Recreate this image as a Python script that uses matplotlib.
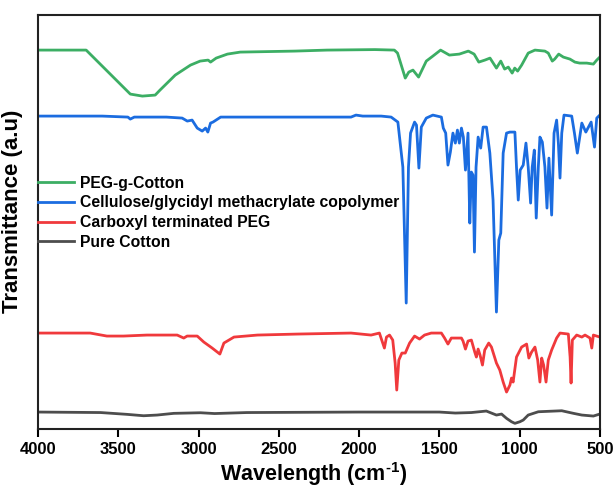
"""FTIR spectra of cotton, PEG and the grafted product (stacked, offset)."""

import numpy as np
import matplotlib
matplotlib.use("Agg")
import matplotlib.pyplot as plt

plt.rcParams.update({
    "font.family": ["Liberation Sans", "DejaVu Sans"],
    "font.weight": "bold",
    "mathtext.fontset": "custom",
    "mathtext.bf": "Liberation Sans:bold",
    "mathtext.rm": "Liberation Sans:bold",
})

# wavenumber (cm-1) / offset transmittance (a.u.)
peg_cotton_wn = [4000, 3700, 3600, 3500, 3425, 3350, 3270, 3240, 3145, 3050, 2990, 2940,
                 2925, 2890, 2820, 2740, 2400, 2200, 1900, 1780, 1760, 1712, 1690, 1664,
                 1629, 1581, 1540, 1492, 1437, 1375, 1319, 1283, 1254, 1216, 1184, 1144,
                 1117, 1093, 1070, 1046, 1030, 1012, 987, 946, 904, 842, 821, 796, 781,
                 756, 727, 686, 655, 625, 581, 540, 519, 500]
peg_cotton_t = [379, 379, 363, 347, 335, 333, 334, 339, 354, 364, 368, 369,
                367, 371, 375, 377, 378, 379, 379.5, 379, 376, 351, 357, 359,
                352, 368, 373, 379, 374, 375, 378, 375, 367, 369, 371, 361,
                368, 360, 362, 356, 361, 358, 364, 376, 379, 378, 376, 368, 370,
                375, 372, 370, 367, 366, 366, 365, 369, 372]

copolymer_wn = [4000, 3600, 3440, 3425, 3400, 3200, 3102, 3070, 3040, 3008, 2977, 2956,
                2942, 2925, 2910, 2862, 2500, 2050, 2019, 1977, 1862, 1800, 1758, 1727,
                1706, 1692, 1679, 1654, 1642, 1627, 1612, 1581, 1540, 1487, 1475, 1460,
                1446, 1431, 1415, 1400, 1387, 1375, 1362, 1350, 1337, 1321, 1310, 1300,
                1290, 1281, 1271, 1258, 1242, 1227, 1206, 1185, 1165, 1144, 1129, 1117,
                1102, 1081, 1060, 1029, 1019, 1008, 996, 977, 960, 946, 931, 921, 908,
                896, 883, 873, 858, 842, 829, 817, 800, 785, 769, 758, 748, 737, 723,
                675, 658, 640, 612, 587, 554, 533, 519, 500]
copolymer_t = [313, 313, 312, 310, 312, 312, 311, 308, 309, 301, 298, 301,
               297, 306, 307, 312, 312, 312, 314, 313, 313, 312, 307, 262,
               126, 262, 296, 307, 304, 261, 302, 311, 314, 312, 301, 296,
               264, 277, 296, 286, 299, 286, 301, 292, 259, 296, 206, 257,
               254, 177, 262, 292, 281, 302, 302, 276, 229, 117, 189, 196,
               276, 296, 297, 297, 262, 229, 259, 264, 286, 262, 226, 262, 279,
               211, 262, 292, 287, 262, 221, 271, 214, 296, 309, 286, 251, 296, 314,
               313, 296, 276, 306, 297, 307, 282, 311, 314]

cooh_peg_wn = [4000, 3675, 3571, 3467, 3321, 3133, 3092, 3071, 3008, 2967, 2915, 2867,
               2842, 2779, 2633, 2383, 2050, 1925, 1873, 1842, 1829, 1810, 1790, 1775,
               1765, 1752, 1733, 1712, 1685, 1654, 1623, 1592, 1550, 1487, 1467, 1446,
               1425, 1362, 1352, 1337, 1321, 1300, 1279, 1269, 1258, 1246, 1231, 1217,
               1192, 1175, 1144, 1123, 1102, 1081, 1060, 1050, 1040, 1019, 987, 956,
               942, 925, 904, 887, 873, 862, 850, 835, 821, 800, 769, 748, 696, 685,
               679, 671, 644, 612, 592, 561, 550, 540, 500]
cooh_peg_t = [96, 96, 93, 93, 94, 94, 91, 93, 93, 87, 81, 75,
              86, 92, 94, 95, 96, 94, 96, 81, 92, 94, 89, 66,
              39, 69, 76, 76, 86, 93, 90, 94, 96, 96, 91, 85,
              91, 91, 88, 80, 88, 89, 77, 72, 80, 74, 64, 79,
              86, 82, 66, 59, 47, 37, 44, 51, 47, 72, 82, 85,
              71, 77, 82, 69, 47, 71, 64, 47, 69, 79, 91, 96, 95, 72,
              46, 89, 94, 92, 94, 91, 81, 94, 92]

cotton_wn = [4000, 3610, 3446, 3342, 3258, 3154, 2988, 2900, 2700, 2000, 1500, 1400,
             1300, 1207, 1144, 1112, 1081, 1050, 1029, 998, 977, 946, 883, 737,
             664, 612, 540, 500]
cotton_t = [17, 16.5, 14.7, 13.3, 14, 15.7, 16.3, 15.5, 16.5, 17, 17, 16,
            16.5, 18, 14, 15, 10.7, 7.3, 5.7, 7.3, 9, 14, 17.3, 18.3,
            15.7, 14, 13, 15]

series = [
    ("PEG-g-Cotton", peg_cotton_wn, peg_cotton_t, "#3cae64"),
    ("Cellulose/glycidyl methacrylate copolymer", copolymer_wn, copolymer_t, "#1b6ce0"),
    ("Carboxyl terminated PEG", cooh_peg_wn, cooh_peg_t, "#f0393c"),
    ("Pure Cotton", cotton_wn, cotton_t, "#4d4d4d"),
]

fig = plt.figure(figsize=(6.16, 4.87), dpi=100)
ax = fig.add_axes([0.0617, 0.119, 0.912, 0.850])

for label, wn, t, color in series:
    ax.plot(wn, t, color=color, linewidth=2.0, label=label)

ax.set_xlim(4000, 500)
ax.set_ylim(0, 414)
ax.set_xticks(np.arange(4000, 499, -500))
ax.set_yticks([])
ax.tick_params(axis="x", direction="out", length=6, width=1.5, labelsize=12, pad=3.5)
for spine in ax.spines.values():
    spine.set_linewidth(1.5)
    spine.set_color("#222222")

ax.set_xlabel(r"Wavelength (cm$^{\mathbf{\text{-}1}}$)", fontsize=15.5, fontweight="bold")
ax.xaxis.set_label_coords(0.49, -0.126)
ax.xaxis.label.set_verticalalignment("baseline")
ax.set_ylabel("Transmittance (a.u)", fontsize=16, fontweight="bold")
ax.yaxis.set_label_coords(-0.027, 0.527)

ax.legend(loc="upper left", bbox_to_anchor=(0.0, 0.612), frameon=False,
          handlelength=2.3, handletextpad=0.35, labelspacing=0.3,
          borderpad=0, borderaxespad=0, prop={"weight": "bold", "size": 11.3})

fig.savefig("out.png", dpi=100)
